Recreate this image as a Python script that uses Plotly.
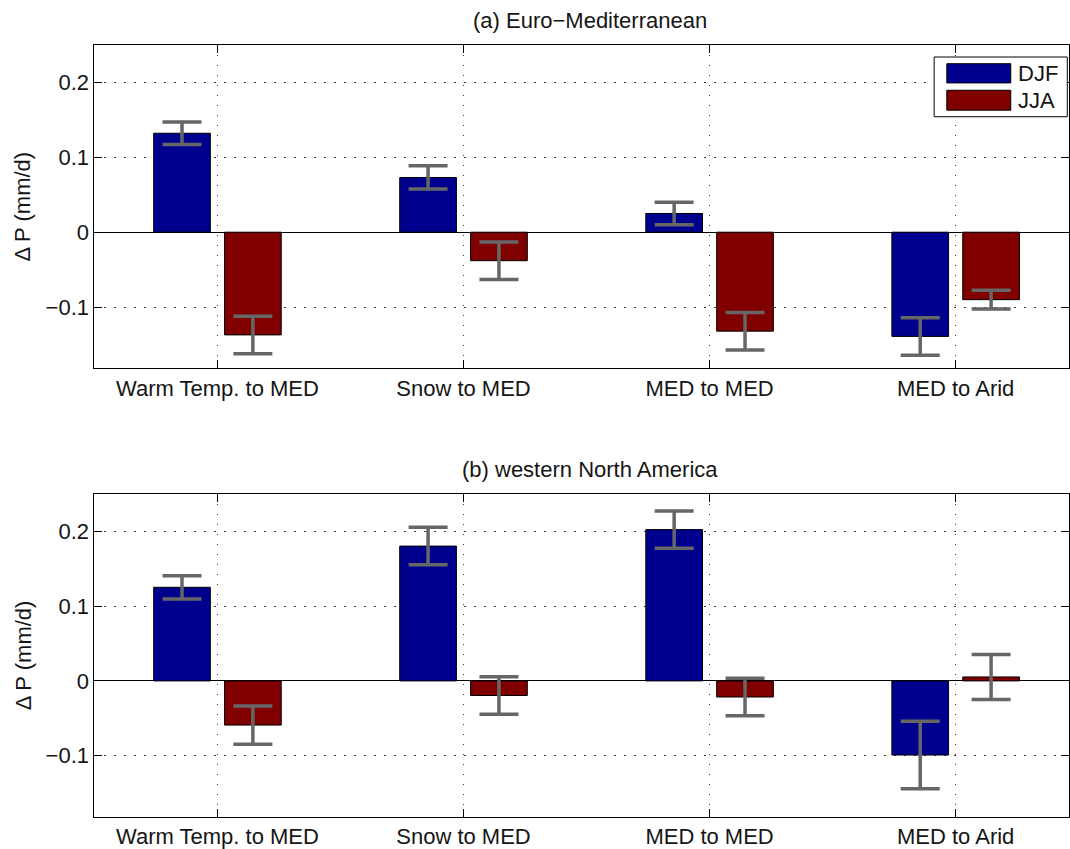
import plotly.graph_objects as go

# ---- data -------------------------------------------------------------
categories = ["Warm Temp. to MED", "Snow to MED", "MED to MED", "MED to Arid"]
seasons = ["DJF", "JJA"]

# (a) Euro-Mediterranean: precipitation change (mm/d) and error half-widths
euro_djf = [0.132, 0.073, 0.025, -0.139]
euro_djf_err = [0.015, 0.0155, 0.015, 0.025]
euro_jja = [-0.137, -0.038, -0.132, -0.090]
euro_jja_err = [0.025, 0.025, 0.025, 0.0126]

# (b) western North America
wna_djf = [0.125, 0.180, 0.202, -0.099]
wna_djf_err = [0.0155, 0.025, 0.025, 0.045]
wna_jja = [-0.059, -0.0195, -0.0215, 0.0053]
wna_jja_err = [0.0255, 0.025, 0.025, 0.030]

y_tick_vals = [-0.1, 0, 0.1, 0.2]
y_tick_text = ["\u22120.1", "0", "0.1", "0.2"]

panel_titles = ["(a) Euro\u2212Mediterranean", "(b) western North America"]
y_title = "\u0394 P (mm/d)"

# ---- styling ----------------------------------------------------------
W, H = 1070, 849
FONT = "Liberation Sans, Arial, Helvetica, sans-serif"
TEXT = "#151515"
FS = 22
COLORS = {"DJF": "#00008f", "JJA": "#800000"}
ERR_COLOR = "#666666"


def px_x(p):
    return p / W


def px_y(p):
    return 1 - p / H


x_pos = list(range(1, len(categories) + 1))
plot_left, plot_right = 94.5, 1070
panels = [
    dict(top=45, bottom=370, djf=(euro_djf, euro_djf_err), jja=(euro_jja, euro_jja_err)),
    dict(top=496, bottom=820.7, djf=(wna_djf, wna_djf_err), jja=(wna_jja, wna_jja_err)),
]

fig = go.Figure()

for i, p in enumerate(panels):
    suffix = "" if i == 0 else str(i + 1)
    for season in seasons:
        vals, errs = p[season.lower()]
        fig.add_trace(go.Bar(
            x=x_pos, y=vals, name=season,
            marker=dict(color=COLORS[season], line=dict(color="black", width=1)),
            error_y=dict(type="data", array=errs, visible=True,
                         color=ERR_COLOR, thickness=3.5, width=19.5),
            xaxis="x" + suffix, yaxis="y" + suffix, showlegend=False,
        ))

axis_common = dict(
    ticks="inside", ticklen=8, tickcolor="black", tickwidth=1,
    showline=True, linecolor="black", linewidth=1, mirror="allticks",
    showgrid=True, gridcolor="#3a3a3a", gridwidth=1, griddash="1.5px,8.5px",
    tickfont=dict(family=FONT, size=FS, color=TEXT),
)

layout = dict(
    width=W, height=H, margin=dict(l=0, r=0, t=0, b=0),
    paper_bgcolor="white", plot_bgcolor="white",
    barmode="group", bargap=0.424, bargroupgap=0.2,
    showlegend=False, font=dict(family=FONT, size=FS, color=TEXT),
)

annotations = []
shapes = []
for i, p in enumerate(panels):
    suffix = "" if i == 0 else str(i + 1)
    layout["xaxis" + suffix] = dict(
        axis_common, domain=[px_x(plot_left), px_x(plot_right)],
        range=[0.5, 0.5 + (plot_right - plot_left) / 246.3],
        tickmode="array", tickvals=x_pos, ticktext=categories,
        zeroline=False, anchor="y" + suffix,
    )
    layout["yaxis" + suffix] = dict(
        axis_common, domain=[px_y(p["bottom"]), px_y(p["top"])],
        range=[-0.1815, 0.25], tickmode="array",
        tickvals=y_tick_vals, ticktext=y_tick_text,
        zeroline=True, zerolinecolor="black", zerolinewidth=1,
        anchor="x" + suffix,
    )
    title_y = p["top"] - 24
    annotations.append(dict(
        text=panel_titles[i], xref="paper", yref="paper",
        x=px_x(591), y=px_y(title_y), xanchor="center", yanchor="middle",
        showarrow=False, font=dict(family=FONT, size=FS, color=TEXT),
    ))
    annotations.append(dict(
        text=y_title, xref="paper", yref="paper", textangle=-90,
        x=px_x(23), y=px_y((p["top"] + p["bottom"]) / 2),
        xanchor="center", yanchor="middle", showarrow=False,
        font=dict(family=FONT, size=FS, color=TEXT),
    ))

# legend box for the top panel
shapes.append(dict(type="rect", xref="paper", yref="paper",
                   x0=px_x(935), x1=px_x(1068.3), y0=px_y(117.3), y1=px_y(57.3),
                   fillcolor="white", line=dict(color="black", width=1), layer="above"))
for season, (y0, y1) in zip(seasons, [(64, 83.3), (90.7, 110.7)]):
    shapes.append(dict(type="rect", xref="paper", yref="paper",
                       x0=px_x(947.7), x1=px_x(1011.7), y0=px_y(y1), y1=px_y(y0),
                       fillcolor=COLORS[season], line=dict(color="black", width=1),
                       layer="above"))
    annotations.append(dict(
        text=season, xref="paper", yref="paper",
        x=px_x(1016.5), y=px_y((y0 + y1) / 2), xanchor="left", yanchor="middle",
        showarrow=False, font=dict(family=FONT, size=FS, color=TEXT),
    ))

layout["annotations"] = annotations
layout["shapes"] = shapes
fig.update_layout(**layout)

fig.write_html("out.html")
